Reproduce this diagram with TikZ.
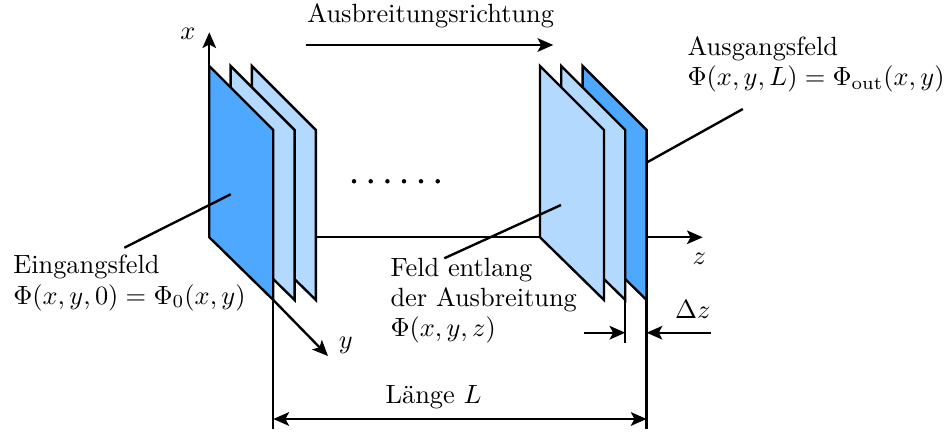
\documentclass[tikz,border=0pt]{standalone}
\usepackage{amsmath,amssymb}
\usetikzlibrary{arrows.meta,positioning,calc}
\definecolor{feldhell}{HTML}{B3D9FF}
\definecolor{felddunkel}{HTML}{4FA8FF}
\newcommand{\platte}[3]{%
  \draw[plate,fill=#2] (#1,5.124) -- (#1+0.896,4.228) -- (#1+0.896,1.848) -- (#1,2.726) -- cycle;
  \coordinate (#3o) at (#1,5.124);
  \coordinate (#3m) at (#1,2.726);
  \coordinate (#3u) at (#1+0.896,1.848);}
\tikzset{spitze/.tip={Stealth[length=2.2mm,width=1.9mm,inset=0.5mm]}}
\begin{document}
\begin{tikzpicture}[font=\fontsize{10}{11.4}\selectfont,every node/.style={scale=1.05},
              plate/.style={line width=0.95pt,draw=black,line join=miter},
              line/.style={line width=0.95pt},
              arr/.style={line width=0.95pt,-spitze},
              punkt/.style={circle,fill=black,inner sep=0,minimum size=1.7pt},
              lab/.style={align=left,inner sep=0}]
              \useasboundingbox (0,0) rectangle (13.314,6.048);
              % plates, back to front
              \platte{3.526}{feldhell}{a3}
              \platte{3.228}{feldhell}{a2}
              \platte{2.93}{felddunkel}{a1}
              \platte{8.156}{felddunkel}{b3}
              \platte{7.858}{feldhell}{b2}
              \platte{7.56}{feldhell}{b1}
              % axes
              \coordinate (xspitze) at (2.93,5.596);
              \coordinate (yspitze) at (4.592,1.064);
              \coordinate (zspitze) at (9.838,2.726);
              \coordinate (zlinks) at (4.422,2.726);
              \coordinate (zrechts) at (9.052,2.726);
              \draw[line] (zlinks) -- (b1m);
              \draw[arr] (a1o) -- (xspitze);
              \draw[arr] (a1u) -- (yspitze);
              \draw[arr] (zrechts) -- (zspitze);
              \node (xlab) at (2.63,5.57) {$x$};
              \node (ylab) at (4.84,1.21) {$y$};
              \node (zlab) at (9.79,2.42) {$z$};
              \node (titel) at (6.03,5.83) {Ausbreitungsrichtung};
              \coordinate (ra) at (4.28,5.418);
              \coordinate (rb) at (7.746,5.418);
              \draw[arr] (ra) -- (rb);
              \foreach \i/\px in {1/4.956,2/5.19,3/5.424,4/5.656,5/5.894,6/6.128}
                \node[punkt] (p\i) at (\px,3.51) {};
              % labels
              \node[lab,anchor=north west] (aus) at (9.62,5.54) {Ausgangsfeld\\ $\Phi(x,y,L)=\Phi_{\text{out}}(x,y)$};
              \node[lab,anchor=north west] (ein) at (0.18,2.48) {Eingangsfeld\\ $\Phi(x,y,0)=\Phi_0(x,y)$};
              \node[lab,anchor=north west] (mid) at (5.46,2.44) {Feld entlang\\ der Ausbreitung\\ $\Phi(x,y,z)$};
              \coordinate (l1a) at (1.74,2.58);
              \coordinate (l1b) at (3.23,3.328);
              \coordinate (l2a) at (10.4,4.522);
              \coordinate (l2b) at (9.06,3.776);
              \coordinate (l3a) at (6.22,2.432);
              \coordinate (l3b) at (7.854,3.178);
              \draw[line] (l1a) -- (l1b);
              \draw[line] (l2a) -- (l2b);
              \draw[line] (l3a) -- (l3b);
              % dimensions
              \coordinate (kunten) at (0,0.042);
              \coordinate (kmitte) at (0,1.242);
              \coordinate (dlang) at (0,0.182);
              \coordinate (dkurz) at (0,1.39);
              \draw[line] (a1u) -- (a1u |- kunten);
              \draw[line] (b3u) -- (b3u |- kunten);
              \draw[line] (b2u) -- (b2u |- kmitte);
              \draw[line,spitze-spitze] (a1u |- dlang) -- (b3u |- dlang);
              \node (laenge) at (6.07,0.49) {L\"ange $L$};
              \coordinate (p1) at (8.176,1.39);
              \coordinate (p3) at (9.954,1.39);
              \draw[arr] (p1) -- (b2u |- dkurz);
              \draw[arr] (p3) -- (b3u |- dkurz);
              \node (dz) at (9.70,1.72) {$\Delta z$};
            \end{tikzpicture}
\end{document}
